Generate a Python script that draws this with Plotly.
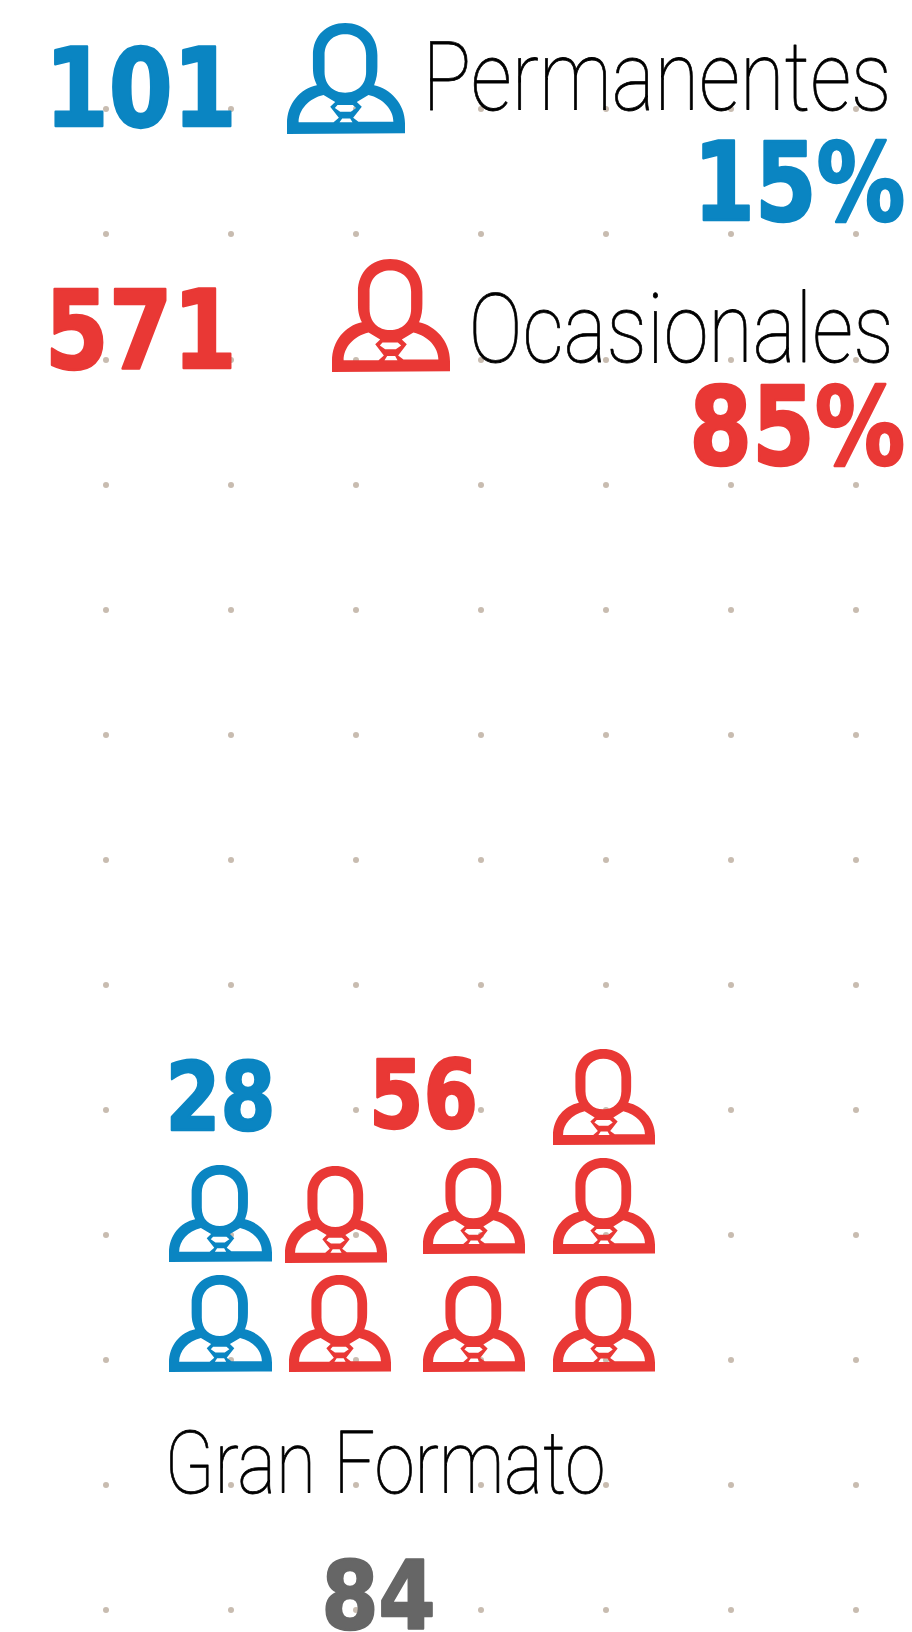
import json
import plotly.graph_objects as go

BLUE = "#0a85c2"
RED = "#e93835"
GREY = "#666666"
DOT = "#c8bcb0"

# Values
permanentes_total = 101
ocasionales_total = 571
permanentes_pct = "15%"
ocasionales_pct = "85%"
gran_formato_perm = 28
gran_formato_ocas = 56
gran_formato_total = 84

dot_x = [106, 231, 356, 481, 606, 731, 856]
dot_y = [109, 234, 360, 485, 610, 735, 860, 985, 1110, 1235, 1360, 1485, 1610]

# Icon boxes: x0, x1, y0, y1, colour
icons = [
    (287, 405, 23, 134, BLUE),
    (332, 450, 259, 372, RED),
    (553, 655, 1049, 1145, RED),
    (169, 272, 1165, 1262, BLUE),
    (285, 387, 1166, 1263, RED),
    (423, 525, 1158, 1254, RED),
    (553, 655, 1158, 1254, RED),
    (169, 272, 1275, 1372, BLUE),
    (289, 391, 1275, 1372, RED),
    (423, 525, 1276, 1372, RED),
    (553, 655, 1276, 1372, RED),
]

# Icon outline in its own 355 x 334 drawing units
ICON = [
    ("M", [(0, 334)]), ("L", [(0, 302)]),
    ("C", [(0, 242), (40, 197), (90, 187)]),
    ("C", [(80, 167), (78, 152), (78, 132)]), ("L", [(78, 97)]),
    ("C", [(78, 37), (120, 0), (175, 0)]),
    ("C", [(230, 0), (272, 37), (272, 97)]), ("L", [(272, 132)]),
    ("C", [(272, 152), (270, 167), (262, 187)]),
    ("C", [(310, 197), (355, 242), (355, 302)]), ("L", [(355, 332)]), ("Z", []),
    # head hole
    ("M", [(113, 97)]),
    ("C", [(113, 57), (140, 34), (175, 34)]),
    ("C", [(210, 34), (238, 57), (238, 97)]), ("L", [(238, 147)]),
    ("C", [(238, 187), (210, 210), (175, 210)]),
    ("C", [(140, 210), (113, 187), (113, 147)]), ("Z", []),
    # left shoulder
    ("M", [(35, 299)]),
    ("C", [(35, 262), (65, 227), (110, 217)]),
    ("L", [(145, 238), (130, 252), (156, 285), (140, 299)]), ("Z", []),
    # right shoulder
    ("M", [(320, 297)]),
    ("C", [(320, 262), (290, 227), (245, 217)]),
    ("L", [(210, 238), (225, 252), (199, 285), (215, 297)]), ("Z", []),
    # tie
    ("M", [(152, 247)]), ("L", [(198, 247), (208, 256), (192, 267), (160, 267), (144, 256)]), ("Z", []),
    ("M", [(166, 287)]), ("L", [(190, 287), (197, 299), (158, 299)]), ("Z", []),
]


def icon_path(x0, x1, y0, y1):
    sx, sy = (x1 - x0) / 355, (y1 - y0) / 334
    out = []
    for cmd, pts in ICON:
        if not pts:
            out.append("Z")
            continue
        if cmd == "L":
            for px, py in pts:
                out.append(f"L{x0 + px * sx:.2f},{y0 + py * sy:.2f}")
        else:
            out.append(cmd + " ".join(f"{x0 + px * sx:.2f},{y0 + py * sy:.2f}" for px, py in pts))
    return " ".join(out)


BOLD = "DejaVu Sans"
THIN = "Roboto"

# text, centre x, centre y, fitted width, size, colour, family, weight, extra stroke
labels = [
    (str(permanentes_total), 140, 88, 192, 108, BLUE, BOLD, 700, 2.5),
    ("Permanentes", 657, 77, 469, 97, "#000000", THIN, 100, 0.8),
    (permanentes_pct, 799, 182, 212, 108, BLUE, BOLD, 700, 2.5),
    (str(ocasionales_total), 140, 330, 192, 108, RED, BOLD, 700, 2.5),
    ("Ocasionales", 681, 329, 425, 97, "#000000", THIN, 100, 0.8),
    (ocasionales_pct, 797, 426, 216, 108, RED, BOLD, 700, 2.5),
    (str(gran_formato_perm), 220, 1097, 110, 94, BLUE, BOLD, 700, 2.5),
    (str(gran_formato_ocas), 423, 1095, 109, 94, RED, BOLD, 700, 2.5),
    ("Gran Formato", 385, 1463, 441, 87, "#000000", THIN, 100, 0.8),
    (str(gran_formato_total), 378, 1596, 114, 94, GREY, BOLD, 700, 2.5),
]

fig = go.Figure()
fig.add_trace(go.Scatter(
    x=[x for _ in dot_y for x in dot_x],
    y=[y for y in dot_y for _ in dot_x],
    mode="markers",
    marker=dict(size=6, color=DOT),
    hoverinfo="skip",
    showlegend=False,
))

for x0, x1, y0, y1, col in icons:
    fig.add_shape(type="path", xref="x", yref="y", path=icon_path(x0, x1, y0, y1),
                  fillcolor=col, fillrule="evenodd", line_width=0, layer="above")

for text, x, y, w, size, col, fam, wt, stroke in labels:
    fig.add_annotation(text=text, x=x, y=y, xref="x", yref="y", xanchor="center", yanchor="middle",
                       showarrow=False, font=dict(family=fam, size=size, color=col, weight=wt))

fig.update_layout(
    width=912, height=1632, margin=dict(l=0, r=0, t=0, b=0),
    paper_bgcolor="white", plot_bgcolor="white",
    xaxis=dict(range=[0, 912], visible=False, fixedrange=True),
    yaxis=dict(range=[1632, 0], visible=False, fixedrange=True),
)

# The reference lettering is condensed: fit each real text element to its measured width.
widths = json.dumps([l[3] for l in labels])
strokes = json.dumps([l[8] for l in labels])
colours = json.dumps([l[5] for l in labels])
post = f"""
document.body.style.margin='0';
var w={widths}, s={strokes}, c={colours};
document.querySelectorAll('text.annotation-text').forEach(function(t,i){{
  t.setAttribute('textLength',w[i]);
  t.setAttribute('lengthAdjust','spacingAndGlyphs');
  t.style.stroke=c[i];
  t.style.strokeWidth=s[i]+'px';
  t.style.strokeLinejoin='round';
}});
"""
fig.write_html("out.html", config=dict(displayModeBar=False), post_script=post)
